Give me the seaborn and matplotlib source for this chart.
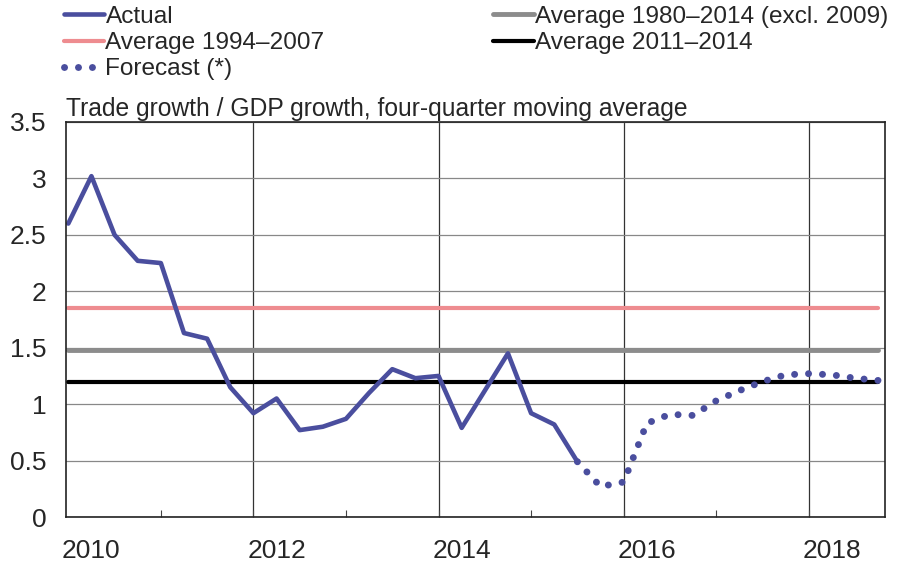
import pandas as pd
import seaborn as sns
import matplotlib.pyplot as plt
from matplotlib.lines import Line2D
from matplotlib.ticker import FuncFormatter

# quarterly data, 2009Q4 - 2018Q3
quarters = pd.period_range("2009Q4", "2018Q3", freq="Q")
actual = [2.60, 3.02, 2.50, 2.27, 2.25, 1.63, 1.58, 1.15, 0.92, 1.05, 0.77, 0.80,
          0.87, 1.10, 1.31, 1.23, 1.25, 0.79, 1.12, 1.45, 0.92, 0.82, 0.49]
forecast = [0.49, 0.27, 0.31, 0.83, 0.91, 0.90, 1.03, 1.12, 1.20, 1.26, 1.27,
            1.26, 1.23, 1.21]
avg_1980_2014 = 1.48
avg_1994_2007 = 1.85
avg_2011_2014 = 1.20
year_labels = [2010, 2012, 2014, 2016, 2018]

BLUE = "#4A4E9E"
PINK = "#EE8C90"
GRAY = "#8C8C8C"

t = quarters.year + (quarters.quarter - 1) / 4
n_act = len(actual)
df_act = pd.DataFrame({"t": t[:n_act], "v": actual})
df_fc = pd.DataFrame({"t": t[n_act - 1:], "v": forecast})
span = [t[0], t[-1]]

sns.set_theme(style="white")
plt.rcParams["font.family"] = ["Liberation Sans", "DejaVu Sans"]

fig, ax = plt.subplots(figsize=(9, 5.64), dpi=100)
fig.subplots_adjust(left=0.0733, right=0.983, bottom=0.0833, top=0.7837)

# averages
sns.lineplot(x=span, y=[avg_1994_2007] * 2, ax=ax, color=PINK, lw=3)
sns.lineplot(x=span, y=[avg_1980_2014] * 2, ax=ax, color=GRAY, lw=3.5)
sns.lineplot(x=span, y=[avg_2011_2014] * 2, ax=ax, color="black", lw=3)

sns.lineplot(data=df_act, x="t", y="v", ax=ax, color=BLUE, lw=3.3)
sns.lineplot(data=df_fc, x="t", y="v", ax=ax, color=BLUE, lw=5,
             linestyle=(0, (0.01, 2.0)), dash_capstyle="round")

ax.set_xlim(t[0] - 0.025, t[-1] + 0.07)
ax.set_ylim(0, 3.5)
ax.set_yticks([i * 0.5 for i in range(8)])
ax.yaxis.set_major_formatter(FuncFormatter(lambda v, p: f"{v:g}"))

# gridlines at every second Q4, small inward ticks in between
grid_pos = [y + 0.75 for y in range(2010, 2018)]
ax.set_xticks(grid_pos)
ax.set_xticklabels([""] * len(grid_pos))
ax.set_xticks(year_labels, minor=True)
ax.set_xticklabels([str(y) for y in year_labels], minor=True)
ax.tick_params(axis="x", which="major", direction="in", length=5, width=0.8,
               color="#444444", bottom=True)
ax.tick_params(axis="x", which="minor", length=0, pad=16, labelsize=19)
ax.tick_params(axis="y", length=0, pad=14, labelsize=19)

ax.grid(True, axis="y", color="#888888", lw=0.9)
ax.grid(True, axis="x", which="major", color="#333333", lw=0.9)
for k, gl in enumerate(ax.xaxis.get_gridlines()):
    if k % 2 == 0:
        gl.set_visible(False)
ax.set_axisbelow(True)

for s in ax.spines.values():
    s.set_color("#222222")
    s.set_linewidth(1.2)

ax.set_xlabel("")
ax.set_ylabel("")
ax.set_title("Trade growth / GDP growth, four-quarter moving average",
             loc="left", fontsize=17.7, pad=4)

handles = [
    Line2D([], [], color=BLUE, lw=3.3),
    Line2D([], [], color=PINK, lw=3),
    Line2D([], [], color=BLUE, lw=5, linestyle=(0, (0.01, 2.0)),
           dash_capstyle="round"),
    Line2D([], [], color=GRAY, lw=3.5),
    Line2D([], [], color="black", lw=3),
]
labels = ["Actual", "Average 1994\u20132007", "Forecast (*)",
          "Average 1980\u20132014 (excl. 2009)", "Average 2011\u20132014"]
fig.legend(handles, labels, loc="upper left", bbox_to_anchor=(0.052, 1.02),
           ncol=2, frameon=False, fontsize=17.6, handlelength=1.65,
           handletextpad=0.05, labelspacing=0.17, columnspacing=6.9,
           borderpad=0.2)

fig.savefig("out.png", dpi=100)
